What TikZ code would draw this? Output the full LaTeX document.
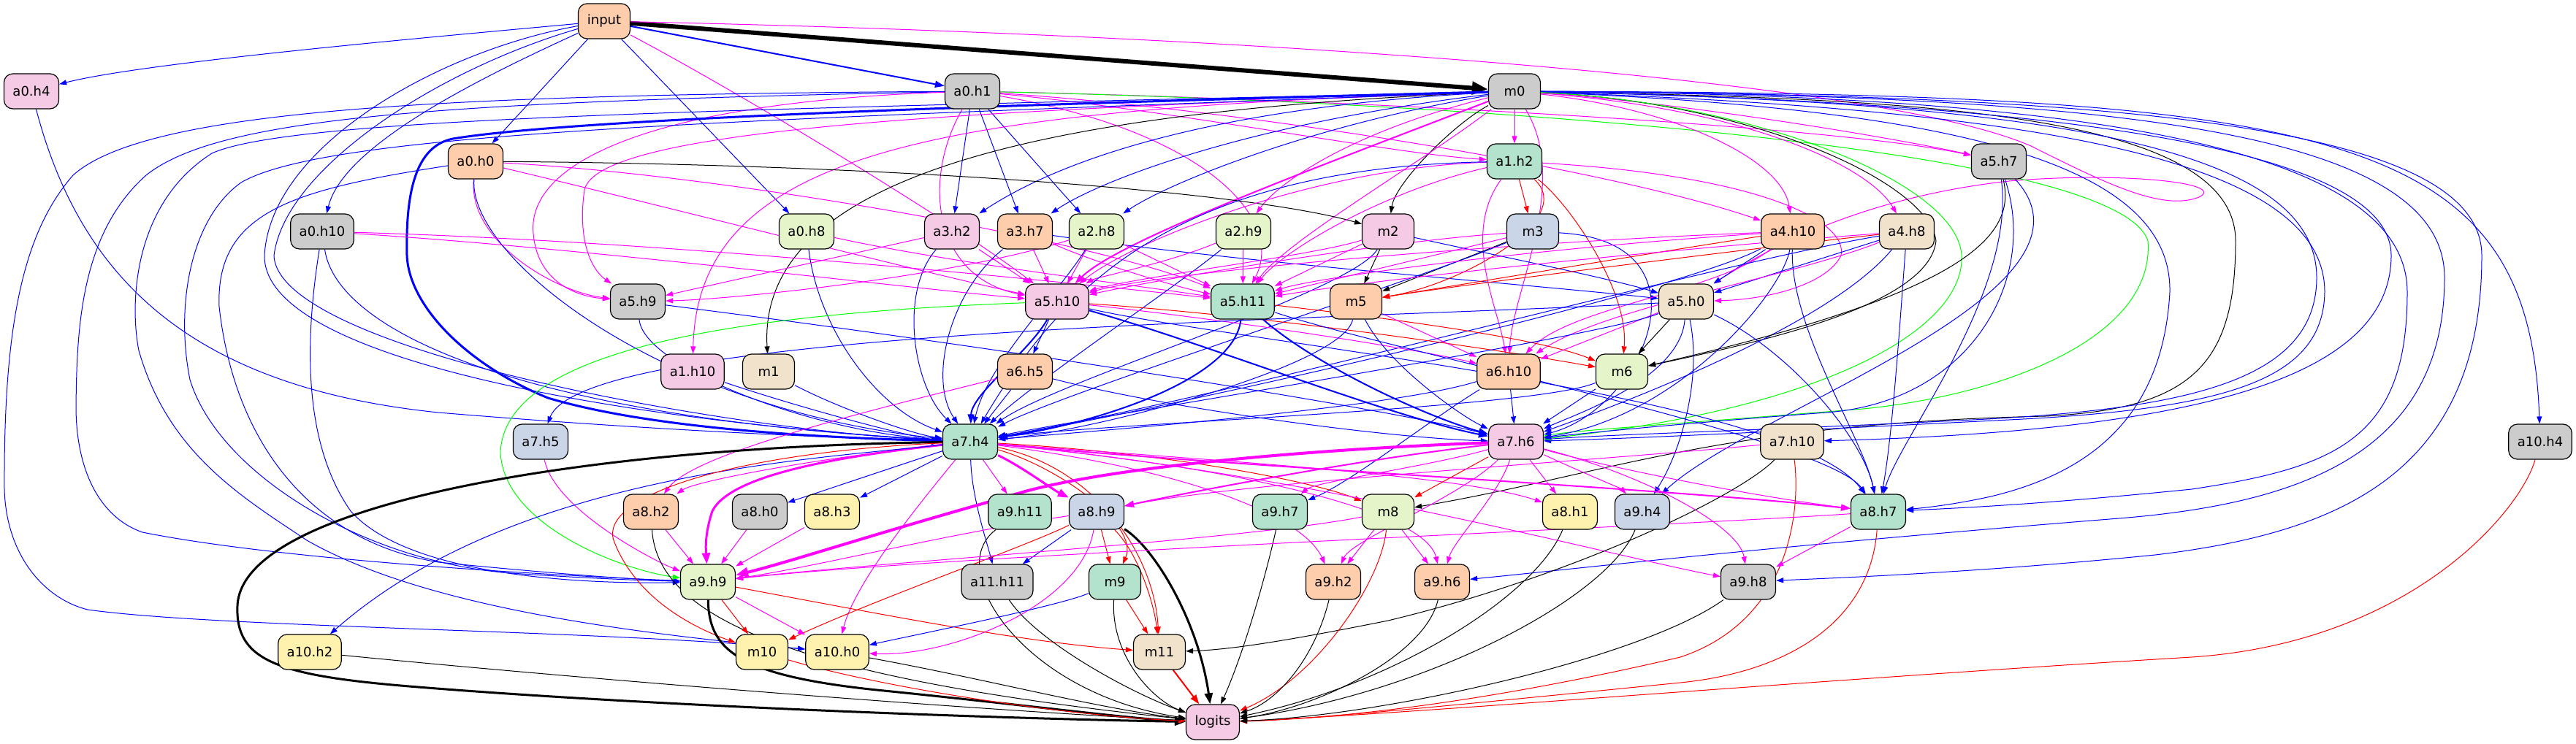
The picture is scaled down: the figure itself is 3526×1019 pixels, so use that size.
\documentclass[tikz,border=0pt]{standalone}
\usepackage{fontspec}
\setmainfont{DejaVu Sans}
\usetikzlibrary{arrows.meta}
\pgfdeclarelayer{bg}
\pgfsetlayers{bg,main}
\definecolor{cT}{HTML}{B3E2CD}
\definecolor{cP}{HTML}{FDCDAC}
\definecolor{cB}{HTML}{CBD5E8}
\definecolor{cK}{HTML}{F4CAE4}
\definecolor{cG}{HTML}{E6F5C9}
\definecolor{cY}{HTML}{FFF2AE}
\definecolor{cE}{HTML}{F1E2CC}
\definecolor{cS}{HTML}{CCCCCC}
\definecolor{lnB}{RGB}{0,0,255}
\definecolor{lnM}{RGB}{255,0,255}
\definecolor{lnR}{RGB}{255,0,0}
\definecolor{lnG}{RGB}{0,255,0}
\definecolor{lnK}{RGB}{0,0,0}
\tikzset{
  nd/.style={draw=black,line width=1.2pt,rounded corners=12pt,minimum width=71pt,minimum height=48pt,inner xsep=12pt,inner ysep=0pt,font=\fontsize{18}{20}\selectfont},
  arr/.style={line width=1pt,-{Triangle[length=10pt,width=7pt]}},
  eb/.style={arr,color=lnB},
  em/.style={arr,color=lnM},
  ek/.style={arr,color=lnK},
  er/.style={arr,color=lnR},
  eg/.style={arr,color=lnG},
  w2/.style={line width=2pt,-{Triangle[length=13pt,width=9pt]}},
  w3/.style={line width=3pt,-{Triangle[length=15pt,width=11pt]}},
  w4/.style={line width=4pt,-{Triangle[length=17pt,width=13pt]}},
  w6/.style={line width=6pt,-{Triangle[length=22pt,width=17pt]}}
}
\begin{document}
\begin{tikzpicture}[x=1pt,y=-1pt]
\useasboundingbox (0,0) rectangle (3526,1019);
% nodes
\node[nd,fill=cP] (inp) at (827,29) {input};
\node[nd,fill=cK] (a0h4) at (43,125) {a0.h4};
\node[nd,fill=cS] (a0h1) at (1331,125) {a0.h1};
\node[nd,fill=cS] (m0) at (2073,125) {m0};
\node[nd,fill=cP] (a0h0) at (651,221) {a0.h0};
\node[nd,fill=cT] (a1h2) at (2073,221) {a1.h2};
\node[nd,fill=cS] (a5h7) at (2736,221) {a5.h7};
\node[nd,fill=cS] (a0h10) at (441,317) {a0.h10};
\node[nd,fill=cG] (a0h8) at (1104,317) {a0.h8};
\node[nd,fill=cK] (a3h2) at (1303,317) {a3.h2};
\node[nd,fill=cP] (a3h7) at (1403,317) {a3.h7};
\node[nd,fill=cG] (a2h8) at (1501,317) {a2.h8};
\node[nd,fill=cG] (a2h9) at (1702,317) {a2.h9};
\node[nd,fill=cK] (m2) at (1900,317) {m2};
\node[nd,fill=cB] (m3) at (2098,317) {m3};
\node[nd,fill=cP] (a4h10) at (2454,317) {a4.h10};
\node[nd,fill=cE] (a4h8) at (2610,317) {a4.h8};
\node[nd,fill=cS] (a5h9) at (873,413) {a5.h9};
\node[nd,fill=cK] (a5h10) at (1447,413) {a5.h10};
\node[nd,fill=cT] (a5h11) at (1701,413) {a5.h11};
\node[nd,fill=cP] (m5) at (1856,413) {m5};
\node[nd,fill=cE] (a5h0) at (2308,413) {a5.h0};
\node[nd,fill=cK] (a1h10) at (948,509) {a1.h10};
\node[nd,fill=cE] (m1) at (1052,509) {m1};
\node[nd,fill=cP] (a6h5) at (1403,509) {a6.h5};
\node[nd,fill=cP] (a6h10) at (2065,509) {a6.h10};
\node[nd,fill=cG] (m6) at (2220,509) {m6};
\node[nd,fill=cB] (a7h5) at (740,605) {a7.h5};
\node[nd,fill=cT] (a7h4) at (1328,605) {a7.h4};
\node[nd,fill=cK] (a7h6) at (2075,605) {a7.h6};
\node[nd,fill=cE] (a7h10) at (2453,605) {a7.h10};
\node[nd,fill=cS] (a10h4) at (3477,605) {a10.h4};
\node[nd,fill=cP] (a8h2) at (891,701) {a8.h2};
\node[nd,fill=cS] (a8h0) at (1040,701) {a8.h0};
\node[nd,fill=cY] (a8h3) at (1139,701) {a8.h3};
\node[nd,fill=cT] (a9h11) at (1396,701) {a9.h11};
\node[nd,fill=cB] (a8h9) at (1501,701) {a8.h9};
\node[nd,fill=cT] (a9h7) at (1752,701) {a9.h7};
\node[nd,fill=cG] (m8) at (1900,701) {m8};
\node[nd,fill=cY] (a8h1) at (2149,701) {a8.h1};
\node[nd,fill=cB] (a9h4) at (2248,701) {a9.h4};
\node[nd,fill=cT] (a8h7) at (2571,701) {a8.h7};
\node[nd,fill=cG] (a9h9) at (969,797) {a9.h9};
\node[nd,fill=cS] (a11h11) at (1365,797) {a11.h11};
\node[nd,fill=cT] (m9) at (1526,797) {m9};
\node[nd,fill=cP] (a9h2) at (1825,797) {a9.h2};
\node[nd,fill=cP] (a9h6) at (1974,797) {a9.h6};
\node[nd,fill=cS] (a9h8) at (2393,797) {a9.h8};
\node[nd,fill=cY] (a10h2) at (424,893) {a10.h2};
\node[nd,fill=cY] (m10) at (1043,893) {m10};
\node[nd,fill=cY] (a10h0) at (1146,893) {a10.h0};
\node[nd,fill=cE] (m11) at (1587,893) {m11};
\node[nd,fill=cK] (logits) at (1660,989) {logits};
\begin{pgfonlayer}{bg}
% from input
\draw[ek,w6] (inp) -- (m0);
\draw[eb,w2] (inp) -- (a0h1);
\draw[eb] (inp) .. controls (600,50) and (200,85) .. (a0h4);
\draw[eb] (inp) -- (a0h0);
\draw[eb] (inp) .. controls (650,110) and (470,200) .. (a0h10);
\draw[eb] (inp) -- (a0h8);
\draw[eb] (inp) .. controls (600,70) and (370,200) .. (362,350) .. controls (360,500) and (900,580) .. (a7h4);
\draw[eb] (inp) .. controls (600,95) and (390,230) .. (375,350) .. controls (380,480) and (1000,590) .. (a7h4);
\draw[em] (inp) .. controls (1000,120) and (1300,300) .. (a5h10);
\draw[em] (inp) .. controls (1600,45) and (2550,100) .. (2780,200) .. controls (2880,250) and (2960,290) .. (3010,270) .. controls (3050,250) and (2900,235) .. (2750,248) .. controls (2550,270) and (2420,340) .. (a5h0);
% from a0.h4
\draw[eb] (a0h4) .. controls (110,380) and (260,530) .. (600,565) .. controls (900,590) and (1150,600) .. (a7h4);
% from a0.h1
\draw[eb] (a0h1) -- (a3h2);
\draw[eb] (a0h1) -- (a3h7);
\draw[eb] (a0h1) -- (a2h8);
\draw[eb] (a0h1) .. controls (600,130) and (200,150) .. (100,240) .. controls (30,320) and (5,450) .. (6,669) .. controls (8,760) and (60,820) .. (120,835) .. controls (300,860) and (800,862) .. (a10h0);
\draw[eb] (a0h1) .. controls (600,140) and (300,160) .. (200,240) .. controls (110,320) and (105,450) .. (104,560) .. controls (105,650) and (140,710) .. (195,729) .. controls (400,770) and (800,790) .. (a9h9);
\draw[em] (a0h1) .. controls (1260,250) and (1280,380) .. (a5h10);
\draw[em] (a0h1) .. controls (1650,180) and (1760,300) .. (a5h11);
\draw[em] (a0h1) .. controls (1800,135) and (2500,170) .. (a5h7);
\draw[em] (a0h1) .. controls (1700,150) and (2200,230) .. (a4h10);
\draw[em] (a0h1) .. controls (1600,150) and (1900,210) .. (a1h2);
\draw[em] (a0h1) .. controls (900,140) and (720,220) .. (730,320) .. controls (735,380) and (780,405) .. (a5h9);
\draw[eg] (a0h1) .. controls (2000,140) and (2900,200) .. (2940,330) .. controls (2950,460) and (2750,540) .. (2550,560) .. controls (2300,580) and (2150,590) .. (a7h6);
% from m0
\draw[ek] (m0) .. controls (1990,170) and (1910,250) .. (m2);
\draw[em] (m0) -- (a1h2);
\draw[em,w2] (m0) .. controls (1800,230) and (1530,330) .. (a5h10);
\draw[em] (m0) .. controls (2300,150) and (2440,220) .. (a4h10);
\draw[em] (m0) .. controls (2400,150) and (2560,230) .. (a4h8);
\draw[em] (m0) .. controls (2300,140) and (2600,190) .. (a5h7);
\draw[em] (m0) .. controls (1300,150) and (955,200) .. (a1h10);
\draw[ek] (m0) .. controls (1500,150) and (1035,220) .. (m1);
\draw[eb] (m0) .. controls (1600,150) and (1420,240) .. (a3h2);
\draw[eb] (m0) .. controls (1700,170) and (1500,250) .. (a3h7);
\draw[eb] (m0) .. controls (1800,170) and (1600,250) .. (a2h8);
\draw[em] (m0) .. controls (1850,180) and (1750,250) .. (a2h9);
\draw[em] (m0) .. controls (1400,150) and (820,170) .. (800,260) .. controls (790,330) and (810,370) .. (a5h9);
\draw[em] (m0) .. controls (1950,220) and (1760,330) .. (a5h11);
\draw[em] (m0) .. controls (2150,250) and (2070,400) .. (a6h10);
\draw[ek] (m0) .. controls (2400,140) and (2640,250) .. (2650,330) .. controls (2640,420) and (2400,470) .. (m6);
\draw[ek] (m0) .. controls (2600,135) and (3060,150) .. (3060,330) .. controls (3060,500) and (3000,560) .. (2800,570) .. controls (2350,580) and (2200,650) .. (m8);
\draw[eb,w3] (m0) .. controls (1500,140) and (800,160) .. (620,190) .. controls (570,200) and (555,260) .. (557,350) .. controls (560,420) and (640,500) .. (750,545) .. controls (900,590) and (1150,600) .. (a7h4);
\draw[eb] (m0) .. controls (1000,150) and (400,160) .. (290,210) .. controls (180,280) and (178,420) .. (190,480) .. controls (230,620) and (330,680) .. (420,740) .. controls (560,820) and (800,862) .. (a10h0);
\draw[eb] (m0) .. controls (1000,165) and (450,180) .. (330,250) .. controls (260,300) and (240,420) .. (260,520) .. controls (300,650) and (500,770) .. (700,785) .. controls (800,792) and (880,795) .. (a9h9);
\draw[eb] (m0) .. controls (3200,128) and (3462,180) .. (a10h4);
\draw[eb] (m0) .. controls (2900,130) and (3397,170) .. (3397,350) .. controls (3397,650) and (3200,730) .. (2950,760) .. controls (2700,785) and (2500,792) .. (a9h8);
\draw[eb] (m0) .. controls (2900,130) and (3346,180) .. (3346,380) .. controls (3346,620) and (3150,690) .. (2900,710) .. controls (2400,750) and (2150,780) .. (a9h6);
\draw[eb] (m0) .. controls (2800,130) and (3295,190) .. (3295,400) .. controls (3295,600) and (3200,640) .. (3000,670) .. controls (2800,690) and (2700,695) .. (a8h7);
\draw[eb] (m0) .. controls (2800,140) and (3273,200) .. (3273,350) .. controls (3273,520) and (3000,590) .. (a7h10);
\draw[eb] (m0) .. controls (2800,140) and (3171,200) .. (3171,380) .. controls (3171,520) and (3000,560) .. (2700,575) .. controls (2400,590) and (2200,595) .. (a7h6);
\draw[eb] (m0) .. controls (2800,150) and (3182,220) .. (3182,400) .. controls (3180,520) and (3050,560) .. (2750,575) .. controls (2450,590) and (2250,600) .. (a7h6);
\draw[eb] (m0) .. controls (2700,150) and (2973,230) .. (2970,400) .. controls (2960,580) and (2850,650) .. (2725,680) .. controls (2680,690) and (2640,695) .. (a8h7);
\draw[eg] (m0) .. controls (2400,140) and (2680,250) .. (2685,350) .. controls (2690,450) and (2500,560) .. (a7h6);
% from a0.h0
\draw[ek] (a0h0) .. controls (1200,225) and (1700,260) .. (m2);
\draw[em] (a0h0) .. controls (1000,240) and (1500,330) .. (a5h11);
\draw[em] (a0h0) .. controls (900,280) and (1250,370) .. (a5h10);
\draw[em] (a0h0) .. controls (640,330) and (760,400) .. (a5h9);
\draw[eb] (a0h0) .. controls (640,350) and (900,560) .. (a7h4);
\draw[eb] (a0h0) .. controls (400,260) and (295,290) .. (300,420) .. controls (320,600) and (420,740) .. (600,770) .. controls (800,790) and (900,795) .. (a9h9);
% from a0.h10
\draw[em] (a0h10) .. controls (800,340) and (1200,390) .. (a5h10);
\draw[em] (a0h10) .. controls (900,330) and (1400,380) .. (a5h11);
\draw[eb] (a0h10) .. controls (460,450) and (700,570) .. (a7h4);
\draw[eb] (a0h10) .. controls (420,450) and (410,600) .. (480,700) .. controls (560,790) and (800,800) .. (a9h9);
% from a0.h8
\draw[eb] (a0h8) .. controls (1120,450) and (1200,560) .. (a7h4);
\draw[em] (a0h8) .. controls (1300,360) and (1550,390) .. (a5h11);
% layer 2-3
\draw[eb] (a3h2) .. controls (1230,400) and (1250,530) .. (a7h4);
\draw[em] (a3h2) -- (a5h10);
\draw[em] (a3h2) -- (a5h9);
\draw[em] (a3h7) -- (a5h10);
\draw[eb] (a3h7) .. controls (1300,400) and (1270,520) .. (a7h4);
\draw[eb] (a3h7) .. controls (1700,360) and (2100,390) .. (a5h0);
\draw[em] (a3h7) .. controls (1500,360) and (1600,390) .. (a5h11);
\draw[em] (a2h8) -- (a5h10);
\draw[em] (a2h8) -- (a5h11);
\draw[eb] (a2h8) .. controls (1450,400) and (1350,500) .. (a7h4);
\draw[em] (a2h8) .. controls (1300,380) and (1000,410) .. (a5h9);
\draw[em] (a2h9) -- (a5h11);
\draw[em] (a2h9) .. controls (1600,360) and (1500,380) .. (a5h10);
\draw[eb] (a2h9) .. controls (1600,400) and (1420,520) .. (a7h4);
% from a1.h2
\draw[er] (a1h2) -- (m3);
\draw[er] (a1h2) .. controls (2150,280) and (2230,400) .. (m6);
\draw[er] (a1h2) .. controls (2160,300) and (2000,390) .. (m5);
\draw[em] (a1h2) .. controls (1800,230) and (1550,330) .. (a5h10);
\draw[em] (a1h2) .. controls (1900,260) and (1760,340) .. (a5h11);
\draw[eb] (a1h2) .. controls (1600,230) and (1450,400) .. (a7h4);
\draw[em] (a1h2) .. controls (2000,320) and (2050,420) .. (a6h10);
\draw[em] (a1h2) .. controls (2400,240) and (2530,300) .. (2520,350) .. controls (2500,390) and (2420,410) .. (a5h0);
% from m2, m3
\draw[ek] (m2) -- (m5);
\draw[eb] (m2) .. controls (2000,340) and (2200,380) .. (a5h0);
\draw[em] (m2) .. controls (1800,350) and (1550,380) .. (a5h10);
\draw[em] (m2) -- (a5h11);
\draw[eb] (m2) .. controls (1850,400) and (1450,520) .. (a7h4);
\draw[ek] (m3) -- (m5);
\draw[em] (m3) -- (a5h11);
\draw[eb] (m3) .. controls (1950,380) and (1450,540) .. (a7h4);
\draw[eb] (m3) .. controls (2350,330) and (2250,560) .. (a7h6);
\draw[em] (m3) .. controls (1900,330) and (1600,380) .. (a5h10);
% from a4.h10, a4.h8
\draw[er] (a4h10) .. controls (2300,340) and (2000,390) .. (m5);
\draw[eb] (a4h10) -- (a5h0);
\draw[em] (a4h10) .. controls (2100,340) and (1800,380) .. (a5h11);
\draw[em] (a4h10) .. controls (2100,330) and (1600,370) .. (a5h10);
\draw[eb] (a4h10) .. controls (2450,450) and (2550,600) .. (a8h7);
\draw[eb] (a4h10) .. controls (2300,400) and (1600,560) .. (a7h4);
\draw[em] (a4h10) .. controls (2350,400) and (2150,420) .. (a6h10);
\draw[eb] (a4h10) .. controls (2440,400) and (2300,570) .. (a7h6);
\draw[er] (a4h8) .. controls (2400,340) and (2000,390) .. (m5);
\draw[eb] (a4h8) -- (a5h0);
\draw[em] (a4h8) .. controls (2300,340) and (1900,380) .. (a5h11);
\draw[eb] (a4h8) .. controls (2600,450) and (2590,600) .. (a8h7);
\draw[eb] (a4h8) .. controls (2500,450) and (2200,560) .. (a7h6);
\draw[eb] (a4h8) .. controls (2350,360) and (1700,540) .. (a7h4);
\draw[em] (a4h8) .. controls (2450,380) and (2200,420) .. (a6h10);
% from a5.h7
\draw[ek] (a5h7) .. controls (2760,320) and (2700,400) .. (m6);
\draw[eb] (a5h7) .. controls (2790,380) and (2700,550) .. (2500,565) .. controls (2300,580) and (2150,595) .. (a7h6);
\draw[eb] (a5h7) .. controls (2900,400) and (2400,560) .. (a9h4);
\draw[eb] (a5h7) .. controls (2760,400) and (2600,600) .. (a8h7);
% layer 5
\draw[eb] (a5h9) .. controls (880,500) and (1100,590) .. (a7h4);
\draw[eb] (a5h9) .. controls (1400,480) and (1900,560) .. (a7h6);
\draw[eb,w2] (a5h10) .. controls (1410,480) and (1330,540) .. (a7h4);
\draw[eb] (a5h10) -- (a6h5);
\draw[eb,w2] (a5h10) .. controls (1650,470) and (1900,570) .. (a7h6);
\draw[er] (a5h10) .. controls (1700,430) and (2000,470) .. (m6);
\draw[em] (a5h10) .. controls (1700,440) and (1950,480) .. (a6h10);
\draw[eg] (a5h10) .. controls (1000,430) and (690,480) .. (685,620) .. controls (690,720) and (850,780) .. (a9h9);
\draw[eb] (a5h10) .. controls (1700,470) and (2450,540) .. (a8h7);
\draw[eb,w2] (a5h11) .. controls (1690,520) and (1500,580) .. (a7h4);
\draw[eb,w2] (a5h11) .. controls (1800,500) and (1950,570) .. (a7h6);
\draw[er] (a5h11) .. controls (1850,430) and (2100,460) .. (m6);
\draw[eb] (a5h11) .. controls (1900,480) and (2500,600) .. (a8h7);
\draw[eb] (m5) .. controls (1840,500) and (1500,590) .. (a7h4);
\draw[eb] (m5) .. controls (1900,500) and (2000,570) .. (a7h6);
\draw[em] (m5) -- (a6h10);
\draw[ek] (a5h0) -- (m6);
\draw[em] (a5h0) -- (a6h10);
\draw[eb] (a5h0) .. controls (2300,520) and (2150,570) .. (a7h6);
\draw[eb] (a5h0) .. controls (2200,460) and (1500,570) .. (a7h4);
\draw[eb] (a5h0) .. controls (2450,480) and (2550,600) .. (a8h7);
\draw[eb] (a5h0) .. controls (1800,440) and (800,450) .. (a7h5);
\draw[eb] (a5h0) .. controls (2330,520) and (2300,620) .. (a9h4);
% layer 6
\draw[eb] (a1h10) .. controls (1100,560) and (1250,600) .. (a7h4);
\draw[eb] (m1) .. controls (1150,560) and (1250,595) .. (a7h4);
\draw[eb] (a6h5) -- (a7h4);
\draw[eb] (a6h5) .. controls (1600,560) and (1900,600) .. (a7h6);
\draw[em] (a6h5) .. controls (1200,560) and (950,620) .. (a8h2);
\draw[eb] (a6h10) -- (a7h6);
\draw[eb] (a6h10) .. controls (1900,560) and (1500,590) .. (a7h4);
\draw[eb] (a6h10) .. controls (1950,580) and (1850,660) .. (a9h7);
\draw[eb] (m6) -- (a7h6);
\draw[eb] (m6) .. controls (2100,560) and (1500,580) .. (a7h4);
% layer 7
\draw[em] (a7h5) .. controls (760,700) and (900,770) .. (a9h9);
\draw[ek,w3] (a7h4) .. controls (800,612) and (330,690) .. (325,830) .. controls (322,905) and (380,925) .. (560,940) .. controls (900,968) and (1400,985) .. (logits);
\draw[em,w3] (a7h4) .. controls (1150,625) and (1000,650) .. (975,700) .. controls (965,730) and (966,750) .. (a9h9);
\draw[em,w3] (a7h4) .. controls (1400,640) and (1440,670) .. (a8h9);
\draw[eb] (a7h4) -- (a8h0);
\draw[eb] (a7h4) -- (a8h3);
\draw[em] (a7h4) .. controls (1100,630) and (950,660) .. (a8h2);
\draw[eb] (a7h4) .. controls (1100,630) and (700,650) .. (a10h2);
\draw[eb] (a7h4) .. controls (1330,680) and (1350,740) .. (a11h11);
\draw[em] (a7h4) -- (a9h11);
\draw[er] (a7h4) .. controls (1600,620) and (1800,660) .. (m8);
\draw[er] (a7h4) .. controls (1500,640) and (1580,760) .. (m11);
\draw[er] (a7h4) .. controls (1450,640) and (1560,720) .. (m9);
\draw[er] (a7h4) .. controls (1000,620) and (820,680) .. (840,740) .. controls (870,820) and (950,860) .. (m10);
\draw[em] (a7h4) .. controls (1250,700) and (1170,800) .. (a10h0);
\draw[em] (a7h4) .. controls (1700,640) and (1950,700) .. (a9h6);
\draw[em] (a7h4) .. controls (1650,630) and (2000,650) .. (a8h1);
\draw[em,w2] (a7h4) .. controls (1700,640) and (2300,670) .. (a8h7);
\draw[em] (a7h4) .. controls (1800,650) and (2200,760) .. (a9h8);
\draw[em] (a7h4) .. controls (1600,640) and (1780,700) .. (a9h2);
\draw[er] (a7h6) -- (m8);
\draw[em,w4] (a7h6) .. controls (1800,615) and (1500,640) .. (1380,680) .. controls (1200,730) and (1080,770) .. (a9h9);
\draw[em,w2] (a7h6) .. controls (1850,630) and (1600,680) .. (a8h9);
\draw[em] (a7h6) .. controls (2000,680) and (1850,740) .. (a9h2);
\draw[em] (a7h6) .. controls (2050,680) and (1990,740) .. (a9h6);
\draw[em] (a7h6) -- (a8h1);
\draw[em] (a7h6) .. controls (2200,640) and (2400,680) .. (a8h7);
\draw[em] (a7h6) .. controls (2250,650) and (2380,720) .. (a9h8);
\draw[em] (a7h6) .. controls (2150,640) and (2220,670) .. (a9h4);
\draw[em] (a7h6) .. controls (1950,640) and (1800,660) .. (a9h7);
\draw[ek] (a7h10) .. controls (2380,680) and (2150,790) .. (1900,850) .. controls (1750,880) and (1680,890) .. (m11);
\draw[er] (a7h10) .. controls (2465,700) and (2450,850) .. (2300,900) .. controls (2000,970) and (1800,985) .. (logits);
\draw[em] (a7h10) .. controls (2200,630) and (1700,660) .. (a8h9);
\draw[er] (a10h4) .. controls (3450,700) and (3300,880) .. (3000,900) .. controls (2500,930) and (1900,980) .. (logits);
% layer 8
\draw[em] (a8h2) -- (a9h9);
\draw[ek] (a8h2) .. controls (900,850) and (1100,930) .. (logits);
\draw[em] (a8h0) -- (a9h9);
\draw[em] (a8h3) -- (a9h9);
\draw[ek] (a9h11) .. controls (1290,780) and (1400,950) .. (logits);
\draw[ek,w3] (a8h9) .. controls (1580,750) and (1640,850) .. (logits);
\draw[er] (a8h9) -- (m9);
\draw[er] (a8h9) .. controls (1560,760) and (1580,830) .. (m11);
\draw[er] (a8h9) .. controls (1400,750) and (1200,820) .. (m10);
\draw[em] (a8h9) .. controls (1480,830) and (1300,900) .. (a10h0);
\draw[eb] (a8h9) -- (a11h11);
\draw[em] (a8h9) .. controls (1300,730) and (1100,780) .. (a9h9);
\draw[ek] (a9h7) .. controls (1730,800) and (1700,900) .. (logits);
\draw[em] (m8) -- (a9h2);
\draw[em] (m8) -- (a9h6);
\draw[er] (m8) .. controls (1890,800) and (1800,930) .. (logits);
\draw[em] (m8) .. controls (1700,740) and (1200,770) .. (a9h9);
\draw[ek] (a8h1) .. controls (2100,820) and (1900,940) .. (logits);
\draw[ek] (a9h4) .. controls (2200,820) and (1950,950) .. (logits);
\draw[em] (a8h7) .. controls (2300,720) and (1300,760) .. (a9h9);
\draw[em] (a8h7) -- (a9h8);
\draw[er] (a8h7) .. controls (2560,850) and (2450,920) .. (2300,935) .. controls (2000,965) and (1800,985) .. (logits);
% layer 9+
\draw[ek,w3] (a9h9) .. controls (970,890) and (1010,925) .. (1200,945) .. controls (1400,965) and (1550,985) .. (logits);
\draw[er] (a9h9) -- (m10);
\draw[em] (a9h9) -- (a10h0);
\draw[er] (a9h9) .. controls (1200,840) and (1400,880) .. (m11);
\draw[ek] (a11h11) .. controls (1420,880) and (1550,950) .. (logits);
\draw[er] (m9) -- (m11);
\draw[eb] (m9) .. controls (1450,830) and (1250,870) .. (a10h0);
\draw[ek] (m9) .. controls (1520,900) and (1580,960) .. (logits);
\draw[ek] (a9h2) .. controls (1800,900) and (1750,960) .. (logits);
\draw[ek] (a9h6) .. controls (1950,900) and (1800,970) .. (logits);
\draw[ek] (a9h8) .. controls (2250,900) and (1900,980) .. (logits);
\draw[ek] (a10h2) .. controls (800,930) and (1300,970) .. (logits);
\draw[er] (m10) .. controls (1200,940) and (1450,980) .. (logits);
\draw[ek] (a10h0) .. controls (1350,930) and (1500,970) .. (logits);
\draw[er,w2] (m11) -- (logits);
\end{pgfonlayer}
\end{tikzpicture}
\end{document}
